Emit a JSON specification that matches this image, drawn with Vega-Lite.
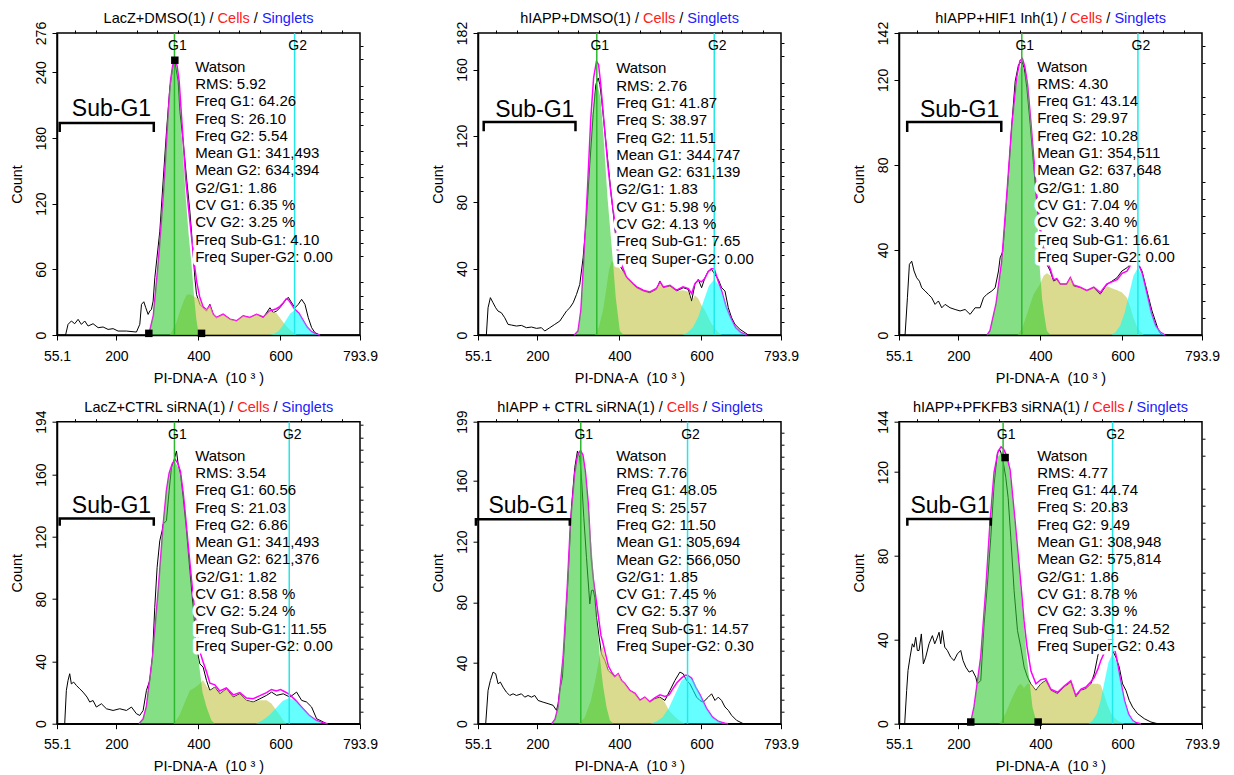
{
"$schema":"https://vega.github.io/schema/vega-lite/v6.json",
"background":"white",
"padding":{"left":8,"top":9,"right":0,"bottom":0},
"config":{"font":"Liberation Sans","view":{"stroke":"#000","strokeWidth":1.5},
"axis":{"grid":false,"domainColor":"#000","domainWidth":1.5,"tickColor":"#000","tickWidth":1,"labelColor":"#000","titleColor":"#000","labelFontSize":14,"titleFontSize":14.5,"titleFontWeight":"normal","labelFont":"Liberation Sans","titleFont":"Liberation Sans"},
"text":{"font":"Liberation Sans"}},
"datasets":{
"p1":[{"s":"m","g1":341.493,"g2":634.394},
{"s":"h","x":55.1,"y":0},{"s":"h","x":76,"y":0},{"s":"h","x":82,"y":9.7},{"s":"h","x":90.2,"y":12.8},{"s":"h","x":98.3,"y":10.3},{"s":"h","x":106.5,"y":14.3},{"s":"h","x":114.6,"y":9.7},{"s":"h","x":122.7,"y":12.8},{"s":"h","x":130.9,"y":8.2},{"s":"h","x":143.1,"y":10.3},{"s":"h","x":155.3,"y":6.7},{"s":"h","x":167.5,"y":7.3},{"s":"h","x":179.7,"y":5.1},{"s":"h","x":191.9,"y":5.8},{"s":"h","x":204.1,"y":3.6},{"s":"h","x":224.4,"y":3.6},{"s":"h","x":248.8,"y":2.7},{"s":"h","x":257,"y":9.8},{"s":"h","x":261.1,"y":28},{"s":"h","x":266.7,"y":30.4},{"s":"h","x":271.6,"y":24.9},{"s":"h","x":277.3,"y":18.8},{"s":"h","x":281.4,"y":21.9},{"s":"h","x":285.4,"y":23.4},{"s":"h","x":289.5,"y":31},{"s":"h","x":293.6,"y":52.3},{"s":"h","x":305.8,"y":94.9},{"s":"h","x":313.9,"y":140.6},{"s":"h","x":322.1,"y":186.2},{"s":"h","x":330.2,"y":225.8},{"s":"h","x":338.3,"y":247.1},{"s":"h","x":342.4,"y":249.5},{"s":"h","x":350.5,"y":231.9},{"s":"h","x":354.6,"y":204.5},{"s":"h","x":362.7,"y":177.1},{"s":"h","x":370.9,"y":143.6},{"s":"h","x":379,"y":113.2},{"s":"h","x":385.5,"y":82.7},{"s":"h","x":391.2,"y":52.3},{"s":"h","x":395.3,"y":37.1},{"s":"h","x":403.4,"y":28},{"s":"h","x":411.5,"y":24.9},{"s":"h","x":419.7,"y":21.9},{"s":"h","x":427.8,"y":28},{"s":"h","x":436,"y":18.8},{"s":"h","x":444.1,"y":15.8},{"s":"h","x":460.4,"y":18.8},{"s":"h","x":476.6,"y":14.3},{"s":"h","x":492.9,"y":12.8},{"s":"h","x":509.2,"y":17.3},{"s":"h","x":525.5,"y":15.8},{"s":"h","x":541.7,"y":18.8},{"s":"h","x":558,"y":15.8},{"s":"h","x":574.3,"y":24.9},{"s":"h","x":582.3,"y":20.4},{"s":"h","x":590.5,"y":21.9},{"s":"h","x":598.6,"y":24.9},{"s":"h","x":610.8,"y":31},{"s":"h","x":619,"y":34.5},{"s":"h","x":624.7,"y":31},{"s":"h","x":635.3,"y":24.9},{"s":"h","x":643.4,"y":28},{"s":"h","x":651.6,"y":32.6},{"s":"h","x":659.7,"y":28},{"s":"h","x":667.8,"y":15.8},{"s":"h","x":676,"y":6.7},{"s":"h","x":684,"y":2.1},{"s":"h","x":696,"y":0},{"s":"h","x":793.9,"y":0},
{"s":"G1","x":272,"y":0},{"s":"G1","x":281,"y":3.6},{"s":"G1","x":290,"y":18},{"s":"G1","x":301.7,"y":64.5},{"s":"G1","x":308,"y":95},{"s":"G1","x":314,"y":125},{"s":"G1","x":319,"y":155},{"s":"G1","x":323.7,"y":186},{"s":"G1","x":328,"y":212},{"s":"G1","x":331.8,"y":232},{"s":"G1","x":337,"y":245},{"s":"G1","x":342.4,"y":249},{"s":"G1","x":348,"y":243},{"s":"G1","x":353,"y":225},{"s":"G1","x":358.7,"y":186},{"s":"G1","x":364,"y":155},{"s":"G1","x":369.2,"y":125},{"s":"G1","x":376,"y":92},{"s":"G1","x":383.1,"y":64.5},{"s":"G1","x":389.6,"y":34},{"s":"G1","x":395,"y":14},{"s":"G1","x":399.3,"y":3.6},{"s":"G1","x":410,"y":0},
{"s":"S","x":330,"y":0},{"s":"S","x":345,"y":10},{"s":"S","x":355,"y":22},{"s":"S","x":365,"y":32},{"s":"S","x":372,"y":37},{"s":"S","x":380,"y":37},{"s":"S","x":388,"y":35.5},{"s":"S","x":396,"y":34},{"s":"S","x":403,"y":32.6},{"s":"S","x":411,"y":25},{"s":"S","x":420,"y":23},{"s":"S","x":428,"y":27},{"s":"S","x":436,"y":18.8},{"s":"S","x":444,"y":16},{"s":"S","x":460,"y":18.8},{"s":"S","x":477,"y":14.3},{"s":"S","x":493,"y":12.8},{"s":"S","x":509,"y":17.3},{"s":"S","x":525,"y":15.8},{"s":"S","x":542,"y":18.8},{"s":"S","x":558,"y":15.8},{"s":"S","x":574,"y":22},{"s":"S","x":590,"y":20},{"s":"S","x":600,"y":15},{"s":"S","x":610,"y":10},{"s":"S","x":620,"y":6},{"s":"S","x":631,"y":2},{"s":"S","x":640,"y":0},
{"s":"G2","x":572.6,"y":0},{"s":"G2","x":582.9,"y":1},{"s":"G2","x":593.2,"y":3},{"s":"G2","x":603.5,"y":7.3},{"s":"G2","x":613.8,"y":13.6},{"s":"G2","x":624.1,"y":19.9},{"s":"G2","x":634.4,"y":22.5},{"s":"G2","x":644.7,"y":19.9},{"s":"G2","x":655,"y":13.6},{"s":"G2","x":665.3,"y":7.3},{"s":"G2","x":675.6,"y":3},{"s":"G2","x":685.9,"y":1},{"s":"G2","x":696.2,"y":0},
{"s":"f","x":272,"y":0},{"s":"f","x":281,"y":3.6},{"s":"f","x":290,"y":18},{"s":"f","x":301.7,"y":64.5},{"s":"f","x":308,"y":95},{"s":"f","x":314,"y":125},{"s":"f","x":319,"y":155},{"s":"f","x":323.7,"y":186},{"s":"f","x":328,"y":212},{"s":"f","x":331.8,"y":232},{"s":"f","x":337,"y":246},{"s":"f","x":342.4,"y":252},{"s":"f","x":348,"y":246},{"s":"f","x":353,"y":232},{"s":"f","x":358.7,"y":200},{"s":"f","x":364,"y":170},{"s":"f","x":369.2,"y":142},{"s":"f","x":376,"y":115},{"s":"f","x":383,"y":90},{"s":"f","x":390,"y":65},{"s":"f","x":396,"y":48},{"s":"f","x":403,"y":35},{"s":"f","x":411,"y":26},{"s":"f","x":420,"y":23},{"s":"f","x":428,"y":27},{"s":"f","x":436,"y":19},{"s":"f","x":444,"y":16},{"s":"f","x":460,"y":19},{"s":"f","x":477,"y":14.5},{"s":"f","x":493,"y":13},{"s":"f","x":509,"y":17.5},{"s":"f","x":525,"y":16},{"s":"f","x":542,"y":19},{"s":"f","x":558,"y":16.5},{"s":"f","x":574,"y":22},{"s":"f","x":590,"y":24},{"s":"f","x":598,"y":26},{"s":"f","x":606,"y":29},{"s":"f","x":614,"y":33},{"s":"f","x":620,"y":32},{"s":"f","x":627,"y":28},{"s":"f","x":634,"y":24},{"s":"f","x":645,"y":20},{"s":"f","x":655,"y":13.6},{"s":"f","x":665,"y":7.3},{"s":"f","x":676,"y":3},{"s":"f","x":686,"y":1},{"s":"f","x":696,"y":0},
{"s":"br","o":1,"x":61.7,"y":185.6},{"s":"br","o":2,"x":61.7,"y":193.8},{"s":"br","o":3,"x":291.1,"y":193.8},{"s":"br","o":4,"x":291.1,"y":185.6},
{"s":"sq","x":342.4,"y":251.1},{"s":"sq","x":279,"y":1.5},{"s":"sq","x":407.5,"y":1.5}],
"p2":[{"s":"m","g1":344.747,"g2":631.139},
{"s":"h","x":55.1,"y":0},{"s":"h","x":75.5,"y":0},{"s":"h","x":79.6,"y":16.4},{"s":"h","x":85.3,"y":22.5},{"s":"h","x":91.8,"y":19.4},{"s":"h","x":98.3,"y":16.4},{"s":"h","x":104,"y":14.4},{"s":"h","x":112.1,"y":13.4},{"s":"h","x":120.3,"y":10.4},{"s":"h","x":128.4,"y":6.4},{"s":"h","x":136.5,"y":6},{"s":"h","x":148.8,"y":5.4},{"s":"h","x":161,"y":5.8},{"s":"h","x":173.2,"y":4.4},{"s":"h","x":185.4,"y":4.8},{"s":"h","x":197.6,"y":4},{"s":"h","x":209.8,"y":4.4},{"s":"h","x":217.9,"y":2.4},{"s":"h","x":230.1,"y":4.4},{"s":"h","x":242.3,"y":6.4},{"s":"h","x":254.6,"y":8.4},{"s":"h","x":262.7,"y":11.4},{"s":"h","x":270.8,"y":14.4},{"s":"h","x":279,"y":16.4},{"s":"h","x":287.1,"y":19.4},{"s":"h","x":295.2,"y":24.4},{"s":"h","x":303.3,"y":30.5},{"s":"h","x":311.4,"y":46.5},{"s":"h","x":319.6,"y":70.6},{"s":"h","x":327.7,"y":102.7},{"s":"h","x":335.9,"y":132.8},{"s":"h","x":342.4,"y":150.9},{"s":"h","x":348.1,"y":154.9},{"s":"h","x":352.2,"y":150.9},{"s":"h","x":356.2,"y":142.9},{"s":"h","x":364.3,"y":122.8},{"s":"h","x":372.5,"y":102.7},{"s":"h","x":380.6,"y":82.7},{"s":"h","x":386.3,"y":70.6},{"s":"h","x":392.8,"y":54.6},{"s":"h","x":399.3,"y":42.5},{"s":"h","x":409.1,"y":38.5},{"s":"h","x":417.2,"y":34.5},{"s":"h","x":425.4,"y":32.5},{"s":"h","x":433.5,"y":30.5},{"s":"h","x":441.6,"y":28.5},{"s":"h","x":449.8,"y":27.5},{"s":"h","x":457.9,"y":26.5},{"s":"h","x":474.2,"y":25.4},{"s":"h","x":490.5,"y":27.5},{"s":"h","x":498.6,"y":32.5},{"s":"h","x":506.7,"y":28.5},{"s":"h","x":523,"y":29.5},{"s":"h","x":539.3,"y":26.5},{"s":"h","x":555.5,"y":28.5},{"s":"h","x":567.8,"y":27.5},{"s":"h","x":575.9,"y":20.4},{"s":"h","x":584,"y":30.5},{"s":"h","x":592.2,"y":33.5},{"s":"h","x":600.3,"y":28.5},{"s":"h","x":608.5,"y":34.5},{"s":"h","x":616.6,"y":38.5},{"s":"h","x":624.7,"y":39.5},{"s":"h","x":632.8,"y":36.5},{"s":"h","x":641,"y":33.5},{"s":"h","x":649.1,"y":28.5},{"s":"h","x":657.3,"y":26.5},{"s":"h","x":665.4,"y":16.4},{"s":"h","x":673.5,"y":10.4},{"s":"h","x":681.7,"y":6.4},{"s":"h","x":693.9,"y":3.4},{"s":"h","x":706.1,"y":1.4},{"s":"h","x":714.2,"y":0},{"s":"h","x":793.9,"y":0},
{"s":"G1","x":290,"y":0},{"s":"G1","x":299,"y":2.4},{"s":"G1","x":306,"y":15},{"s":"G1","x":313,"y":42.5},{"s":"G1","x":322,"y":82.7},{"s":"G1","x":330,"y":122.8},{"s":"G1","x":337.5,"y":142.9},{"s":"G1","x":345,"y":152},{"s":"G1","x":353.8,"y":142.9},{"s":"G1","x":360.3,"y":122.8},{"s":"G1","x":370.9,"y":82.7},{"s":"G1","x":378,"y":62},{"s":"G1","x":384.7,"y":42.5},{"s":"G1","x":391,"y":22.4},{"s":"G1","x":401,"y":2.4},{"s":"G1","x":410,"y":0},
{"s":"S","x":340,"y":0},{"s":"S","x":350,"y":5},{"s":"S","x":360,"y":15},{"s":"S","x":368,"y":28},{"s":"S","x":375,"y":40},{"s":"S","x":381,"y":44.5},{"s":"S","x":388,"y":43},{"s":"S","x":395,"y":42},{"s":"S","x":403,"y":39},{"s":"S","x":409,"y":38.5},{"s":"S","x":417,"y":34.5},{"s":"S","x":425,"y":32.5},{"s":"S","x":433,"y":30.5},{"s":"S","x":442,"y":28.5},{"s":"S","x":450,"y":27.5},{"s":"S","x":458,"y":26.5},{"s":"S","x":474,"y":25.4},{"s":"S","x":490,"y":27.5},{"s":"S","x":499,"y":31},{"s":"S","x":507,"y":28.5},{"s":"S","x":523,"y":29.5},{"s":"S","x":539,"y":26.5},{"s":"S","x":555,"y":27},{"s":"S","x":568,"y":26},{"s":"S","x":576,"y":20},{"s":"S","x":584,"y":24},{"s":"S","x":592,"y":22},{"s":"S","x":600,"y":18},{"s":"S","x":608,"y":15},{"s":"S","x":616,"y":11},{"s":"S","x":624,"y":7},{"s":"S","x":633,"y":4},{"s":"S","x":641,"y":1.5},{"s":"S","x":650,"y":0},
{"s":"G2","x":553,"y":0},{"s":"G2","x":566,"y":1.5},{"s":"G2","x":579,"y":4.5},{"s":"G2","x":592,"y":10.9},{"s":"G2","x":605,"y":20.3},{"s":"G2","x":618,"y":29.6},{"s":"G2","x":631,"y":33.5},{"s":"G2","x":644,"y":29.6},{"s":"G2","x":657,"y":20.3},{"s":"G2","x":670,"y":10.9},{"s":"G2","x":683,"y":4.5},{"s":"G2","x":696,"y":1.5},{"s":"G2","x":709,"y":0},
{"s":"f","x":290,"y":0},{"s":"f","x":299,"y":2.4},{"s":"f","x":306,"y":15},{"s":"f","x":313,"y":45},{"s":"f","x":322,"y":88},{"s":"f","x":330,"y":130},{"s":"f","x":337,"y":155},{"s":"f","x":344,"y":165},{"s":"f","x":349,"y":163},{"s":"f","x":354,"y":152},{"s":"f","x":360,"y":135},{"s":"f","x":366,"y":118},{"s":"f","x":371,"y":104},{"s":"f","x":378,"y":88},{"s":"f","x":385,"y":75},{"s":"f","x":391,"y":62},{"s":"f","x":397,"y":52},{"s":"f","x":403,"y":44},{"s":"f","x":409,"y":40},{"s":"f","x":417,"y":35},{"s":"f","x":425,"y":33},{"s":"f","x":433,"y":31},{"s":"f","x":442,"y":29},{"s":"f","x":450,"y":28},{"s":"f","x":458,"y":27},{"s":"f","x":474,"y":26},{"s":"f","x":490,"y":28},{"s":"f","x":499,"y":32},{"s":"f","x":507,"y":29},{"s":"f","x":523,"y":30},{"s":"f","x":539,"y":27},{"s":"f","x":555,"y":29},{"s":"f","x":568,"y":28},{"s":"f","x":576,"y":25},{"s":"f","x":584,"y":31},{"s":"f","x":592,"y":33},{"s":"f","x":600,"y":32},{"s":"f","x":608,"y":34},{"s":"f","x":616,"y":38},{"s":"f","x":624,"y":40},{"s":"f","x":631,"y":40},{"s":"f","x":640,"y":33},{"s":"f","x":650,"y":26},{"s":"f","x":660,"y":17},{"s":"f","x":670,"y":11},{"s":"f","x":683,"y":4.5},{"s":"f","x":696,"y":1.5},{"s":"f","x":710,"y":0},
{"s":"br","o":1,"x":69,"y":122.8},{"s":"br","o":2,"x":69,"y":128.4},{"s":"br","o":3,"x":292.8,"y":128.4},{"s":"br","o":4,"x":292.8,"y":122.8}],
"p3":[{"s":"m","g1":354.511,"g2":637.648},
{"s":"h","x":55.1,"y":0},{"s":"h","x":69.9,"y":0},{"s":"h","x":75.6,"y":17.5},{"s":"h","x":80.4,"y":33.2},{"s":"h","x":86.1,"y":34.7},{"s":"h","x":91.8,"y":30.1},{"s":"h","x":98.3,"y":26.9},{"s":"h","x":104.9,"y":25.3},{"s":"h","x":110.6,"y":22.2},{"s":"h","x":118.7,"y":20.7},{"s":"h","x":126.8,"y":19.1},{"s":"h","x":134.9,"y":17.5},{"s":"h","x":143.1,"y":14.4},{"s":"h","x":151.2,"y":16},{"s":"h","x":159.4,"y":12.8},{"s":"h","x":167.5,"y":14.4},{"s":"h","x":179.7,"y":12.8},{"s":"h","x":191.9,"y":12},{"s":"h","x":204.1,"y":11.3},{"s":"h","x":216.3,"y":12},{"s":"h","x":228.5,"y":9.7},{"s":"h","x":240.7,"y":12.8},{"s":"h","x":252.9,"y":12.8},{"s":"h","x":261.1,"y":17.5},{"s":"h","x":269.2,"y":19.1},{"s":"h","x":281.4,"y":20.7},{"s":"h","x":289.5,"y":22.2},{"s":"h","x":297.7,"y":30.1},{"s":"h","x":301.7,"y":36.3},{"s":"h","x":308.3,"y":39.4},{"s":"h","x":313.9,"y":53.5},{"s":"h","x":322.1,"y":75.5},{"s":"h","x":330.2,"y":99},{"s":"h","x":338.4,"y":119.3},{"s":"h","x":346.5,"y":127.1},{"s":"h","x":354.6,"y":128.7},{"s":"h","x":360.3,"y":125.6},{"s":"h","x":366.8,"y":116.2},{"s":"h","x":375,"y":99},{"s":"h","x":383.1,"y":80.2},{"s":"h","x":391.2,"y":61.4},{"s":"h","x":399.4,"y":48.8},{"s":"h","x":407.5,"y":39.4},{"s":"h","x":415.6,"y":33.2},{"s":"h","x":423.8,"y":30.1},{"s":"h","x":431.9,"y":25.3},{"s":"h","x":440,"y":26.1},{"s":"h","x":448.2,"y":23.8},{"s":"h","x":464.4,"y":23.8},{"s":"h","x":472.6,"y":26.9},{"s":"h","x":480.7,"y":23},{"s":"h","x":497,"y":22.2},{"s":"h","x":513.3,"y":20.7},{"s":"h","x":529.6,"y":22.2},{"s":"h","x":545.9,"y":19.1},{"s":"h","x":562.1,"y":23.8},{"s":"h","x":574.3,"y":25.3},{"s":"h","x":586.5,"y":26.9},{"s":"h","x":598.7,"y":30.1},{"s":"h","x":610.9,"y":31.6},{"s":"h","x":623.1,"y":34},{"s":"h","x":631.3,"y":34.7},{"s":"h","x":639.4,"y":33.2},{"s":"h","x":647.5,"y":30.1},{"s":"h","x":655.7,"y":23.8},{"s":"h","x":663.8,"y":17.5},{"s":"h","x":672,"y":11.3},{"s":"h","x":680.1,"y":6.6},{"s":"h","x":688.2,"y":1.9},{"s":"h","x":696.3,"y":0},{"s":"h","x":793.9,"y":0},
{"s":"G1","x":270,"y":0},{"s":"G1","x":277.3,"y":1.9},{"s":"G1","x":292,"y":15},{"s":"G1","x":305.8,"y":33.2},{"s":"G1","x":318,"y":64.5},{"s":"G1","x":330.2,"y":95.8},{"s":"G1","x":342.4,"y":119.3},{"s":"G1","x":354,"y":128},{"s":"G1","x":368.5,"y":119.3},{"s":"G1","x":379,"y":95.8},{"s":"G1","x":389.6,"y":64.5},{"s":"G1","x":397.7,"y":33.2},{"s":"G1","x":404,"y":17},{"s":"G1","x":409.1,"y":9.6},{"s":"G1","x":415.6,"y":1.9},{"s":"G1","x":425,"y":0},
{"s":"S","x":345,"y":0},{"s":"S","x":357,"y":4},{"s":"S","x":367,"y":9.7},{"s":"S","x":383,"y":19.1},{"s":"S","x":399,"y":24},{"s":"S","x":408,"y":28},{"s":"S","x":416,"y":29},{"s":"S","x":424,"y":28},{"s":"S","x":432,"y":25},{"s":"S","x":440,"y":26},{"s":"S","x":448,"y":23.8},{"s":"S","x":464,"y":23.8},{"s":"S","x":473,"y":26.9},{"s":"S","x":481,"y":23},{"s":"S","x":497,"y":22.2},{"s":"S","x":513,"y":20.7},{"s":"S","x":530,"y":22.2},{"s":"S","x":546,"y":19.1},{"s":"S","x":562,"y":23},{"s":"S","x":574,"y":22},{"s":"S","x":587,"y":21},{"s":"S","x":599,"y":20},{"s":"S","x":611,"y":17.5},{"s":"S","x":619,"y":13},{"s":"S","x":627,"y":8},{"s":"S","x":635,"y":4},{"s":"S","x":643,"y":1.9},{"s":"S","x":652,"y":0},
{"s":"G2","x":572.6,"y":0},{"s":"G2","x":583.4,"y":1.4},{"s":"G2","x":594.2,"y":4.3},{"s":"G2","x":605.1,"y":10.3},{"s":"G2","x":616,"y":19.2},{"s":"G2","x":626.8,"y":27.9},{"s":"G2","x":637.6,"y":31.6},{"s":"G2","x":648.5,"y":27.9},{"s":"G2","x":659.3,"y":19.2},{"s":"G2","x":670.1,"y":10.3},{"s":"G2","x":681,"y":4.3},{"s":"G2","x":691.9,"y":1.4},{"s":"G2","x":702.7,"y":0},
{"s":"f","x":270,"y":0},{"s":"f","x":277,"y":2},{"s":"f","x":292,"y":15},{"s":"f","x":305.8,"y":35},{"s":"f","x":318,"y":66},{"s":"f","x":330,"y":98},{"s":"f","x":342,"y":121},{"s":"f","x":350,"y":129},{"s":"f","x":356,"y":130},{"s":"f","x":362,"y":126},{"s":"f","x":368.5,"y":118},{"s":"f","x":375,"y":104},{"s":"f","x":383,"y":85},{"s":"f","x":391,"y":66},{"s":"f","x":399,"y":52},{"s":"f","x":407,"y":42},{"s":"f","x":415,"y":35},{"s":"f","x":424,"y":31},{"s":"f","x":432,"y":26},{"s":"f","x":440,"y":26.5},{"s":"f","x":448,"y":24},{"s":"f","x":464,"y":24},{"s":"f","x":473,"y":27},{"s":"f","x":481,"y":23.5},{"s":"f","x":497,"y":22.5},{"s":"f","x":513,"y":21},{"s":"f","x":530,"y":22.5},{"s":"f","x":546,"y":20},{"s":"f","x":562,"y":24},{"s":"f","x":574,"y":25},{"s":"f","x":587,"y":26},{"s":"f","x":599,"y":29},{"s":"f","x":611,"y":30},{"s":"f","x":620,"y":33},{"s":"f","x":628,"y":35},{"s":"f","x":637.6,"y":34},{"s":"f","x":648,"y":29},{"s":"f","x":659,"y":20},{"s":"f","x":670,"y":10.5},{"s":"f","x":681,"y":4.3},{"s":"f","x":692,"y":1.4},{"s":"f","x":703,"y":0},
{"s":"br","o":1,"x":75.1,"y":95.5},{"s":"br","o":2,"x":75.1,"y":100.2},{"s":"br","o":3,"x":304.5,"y":100.2},{"s":"br","o":4,"x":304.5,"y":95.5}],
"p4":[{"s":"m","g1":341.493,"g2":621.376},
{"s":"h","x":55.1,"y":0},{"s":"h","x":73.9,"y":0},{"s":"h","x":77.9,"y":21.4},{"s":"h","x":82,"y":27.8},{"s":"h","x":86.1,"y":32.1},{"s":"h","x":90.1,"y":25.6},{"s":"h","x":95.8,"y":26.7},{"s":"h","x":102.3,"y":24.6},{"s":"h","x":110.5,"y":22.4},{"s":"h","x":118.6,"y":20.3},{"s":"h","x":128.4,"y":17.1},{"s":"h","x":134.9,"y":13.9},{"s":"h","x":143,"y":14.9},{"s":"h","x":151.1,"y":10.7},{"s":"h","x":163.4,"y":12.8},{"s":"h","x":175.6,"y":9.6},{"s":"h","x":191.8,"y":8.5},{"s":"h","x":208.1,"y":9.6},{"s":"h","x":224.4,"y":8.5},{"s":"h","x":236.6,"y":10.7},{"s":"h","x":248.8,"y":6.4},{"s":"h","x":256.9,"y":5.3},{"s":"h","x":265.1,"y":8.5},{"s":"h","x":273.2,"y":21.4},{"s":"h","x":281.3,"y":27.8},{"s":"h","x":287.8,"y":42.7},{"s":"h","x":293.5,"y":74.8},{"s":"h","x":299.2,"y":100.4},{"s":"h","x":305.7,"y":117.5},{"s":"h","x":311.4,"y":124},{"s":"h","x":313.9,"y":128.2},{"s":"h","x":322,"y":130.4},{"s":"h","x":328.5,"y":149.6},{"s":"h","x":334.2,"y":164.5},{"s":"h","x":339.9,"y":168.8},{"s":"h","x":346.4,"y":175.2},{"s":"h","x":350.5,"y":166.7},{"s":"h","x":356.2,"y":160.3},{"s":"h","x":362.7,"y":145.3},{"s":"h","x":370.8,"y":124},{"s":"h","x":378.9,"y":98.3},{"s":"h","x":387.1,"y":74.8},{"s":"h","x":395.2,"y":49.1},{"s":"h","x":403.3,"y":38.5},{"s":"h","x":411.5,"y":36.3},{"s":"h","x":419.6,"y":27.8},{"s":"h","x":427.8,"y":21.4},{"s":"h","x":440,"y":23.5},{"s":"h","x":452.2,"y":19.2},{"s":"h","x":468.5,"y":22.4},{"s":"h","x":484.7,"y":17.1},{"s":"h","x":501,"y":19.2},{"s":"h","x":517.3,"y":15},{"s":"h","x":533.5,"y":13.9},{"s":"h","x":549.8,"y":16},{"s":"h","x":566.1,"y":18.2},{"s":"h","x":578.3,"y":20.3},{"s":"h","x":590.5,"y":18.2},{"s":"h","x":606.8,"y":19.2},{"s":"h","x":623,"y":17.1},{"s":"h","x":639.3,"y":20.3},{"s":"h","x":651.5,"y":15},{"s":"h","x":663.7,"y":13.9},{"s":"h","x":675.9,"y":10.7},{"s":"h","x":688.1,"y":3.2},{"s":"h","x":704.4,"y":1.1},{"s":"h","x":712.5,"y":0},{"s":"h","x":793.9,"y":0},
{"s":"G1","x":255,"y":0},{"s":"G1","x":265,"y":3},{"s":"G1","x":273.2,"y":10.7},{"s":"G1","x":287.8,"y":42.7},{"s":"G1","x":301.7,"y":85.5},{"s":"G1","x":313.9,"y":128.2},{"s":"G1","x":322,"y":149.6},{"s":"G1","x":328.5,"y":160.3},{"s":"G1","x":336,"y":166},{"s":"G1","x":343,"y":168},{"s":"G1","x":350,"y":165},{"s":"G1","x":356.2,"y":160.3},{"s":"G1","x":369.2,"y":128.2},{"s":"G1","x":383,"y":85.5},{"s":"G1","x":399.3,"y":42.7},{"s":"G1","x":410,"y":20},{"s":"G1","x":419.6,"y":10.7},{"s":"G1","x":431.8,"y":2},{"s":"G1","x":440,"y":0},
{"s":"S","x":340,"y":0},{"s":"S","x":355,"y":6},{"s":"S","x":367,"y":14},{"s":"S","x":379,"y":21.4},{"s":"S","x":390,"y":23},{"s":"S","x":403,"y":25.6},{"s":"S","x":411,"y":28},{"s":"S","x":420,"y":24},{"s":"S","x":428,"y":21.4},{"s":"S","x":440,"y":23.5},{"s":"S","x":452,"y":19.2},{"s":"S","x":468,"y":22.4},{"s":"S","x":485,"y":17.1},{"s":"S","x":501,"y":19.2},{"s":"S","x":517,"y":15},{"s":"S","x":533,"y":13.9},{"s":"S","x":550,"y":15},{"s":"S","x":566,"y":15},{"s":"S","x":578,"y":13},{"s":"S","x":590,"y":8.5},{"s":"S","x":600,"y":5},{"s":"S","x":607,"y":2.1},{"s":"S","x":615,"y":0},
{"s":"G2","x":539.9,"y":0},{"s":"G2","x":556.2,"y":2.2},{"s":"G2","x":572.5,"y":5.4},{"s":"G2","x":588.8,"y":10},{"s":"G2","x":605.1,"y":14.6},{"s":"G2","x":621.4,"y":16.5},{"s":"G2","x":637.7,"y":14.6},{"s":"G2","x":654,"y":10},{"s":"G2","x":670.3,"y":5.4},{"s":"G2","x":686.6,"y":2.2},{"s":"G2","x":702.9,"y":0},
{"s":"f","x":255,"y":0},{"s":"f","x":265,"y":3},{"s":"f","x":273,"y":11},{"s":"f","x":288,"y":43},{"s":"f","x":302,"y":86},{"s":"f","x":314,"y":128},{"s":"f","x":322,"y":150},{"s":"f","x":328.5,"y":161},{"s":"f","x":336,"y":167},{"s":"f","x":343,"y":170},{"s":"f","x":350,"y":167},{"s":"f","x":356,"y":162},{"s":"f","x":363,"y":148},{"s":"f","x":369,"y":132},{"s":"f","x":376,"y":112},{"s":"f","x":383,"y":93},{"s":"f","x":391,"y":72},{"s":"f","x":399,"y":56},{"s":"f","x":405,"y":45},{"s":"f","x":411,"y":40},{"s":"f","x":420,"y":33},{"s":"f","x":428,"y":26},{"s":"f","x":440,"y":25},{"s":"f","x":452,"y":21},{"s":"f","x":468,"y":23},{"s":"f","x":485,"y":18.5},{"s":"f","x":501,"y":20},{"s":"f","x":517,"y":16.5},{"s":"f","x":533,"y":16},{"s":"f","x":550,"y":18},{"s":"f","x":566,"y":20},{"s":"f","x":578,"y":22},{"s":"f","x":590,"y":21},{"s":"f","x":600,"y":22},{"s":"f","x":607,"y":21},{"s":"f","x":621,"y":19},{"s":"f","x":637,"y":15},{"s":"f","x":654,"y":10},{"s":"f","x":670,"y":5.4},{"s":"f","x":687,"y":2.2},{"s":"f","x":703,"y":0.7},{"s":"f","x":715,"y":0},
{"s":"br","o":1,"x":61.7,"y":127.1},{"s":"br","o":2,"x":61.7,"y":131.8},{"s":"br","o":3,"x":291.1,"y":131.8},{"s":"br","o":4,"x":291.1,"y":127.1}],
"p5":[{"s":"m","g1":305.694,"g2":566.05},
{"s":"h","x":55.1,"y":0},{"s":"h","x":73.9,"y":0},{"s":"h","x":79.6,"y":21.9},{"s":"h","x":85.3,"y":28.5},{"s":"h","x":91.8,"y":34},{"s":"h","x":98.3,"y":32.9},{"s":"h","x":104,"y":26.3},{"s":"h","x":109.7,"y":27.4},{"s":"h","x":116.2,"y":24.1},{"s":"h","x":124.3,"y":20.8},{"s":"h","x":132.5,"y":18.6},{"s":"h","x":140.6,"y":19.7},{"s":"h","x":148.8,"y":18.6},{"s":"h","x":161,"y":19.7},{"s":"h","x":169.1,"y":17.5},{"s":"h","x":177.2,"y":18.6},{"s":"h","x":185.4,"y":17.5},{"s":"h","x":193.5,"y":18.6},{"s":"h","x":201.6,"y":15.3},{"s":"h","x":213.8,"y":14.2},{"s":"h","x":226,"y":13.2},{"s":"h","x":238.2,"y":12.1},{"s":"h","x":246.4,"y":8.8},{"s":"h","x":250.5,"y":13.2},{"s":"h","x":254.5,"y":21.9},{"s":"h","x":261,"y":30.7},{"s":"h","x":266.7,"y":57},{"s":"h","x":274.9,"y":96.4},{"s":"h","x":283,"y":142.5},{"s":"h","x":291.1,"y":168.8},{"s":"h","x":297.6,"y":179.7},{"s":"h","x":303.3,"y":175.4},{"s":"h","x":307.4,"y":162.2},{"s":"h","x":313.1,"y":135.9},{"s":"h","x":319.6,"y":109.6},{"s":"h","x":327.7,"y":78.9},{"s":"h","x":331.8,"y":87.7},{"s":"h","x":335.9,"y":88.1},{"s":"h","x":339.9,"y":83.3},{"s":"h","x":344,"y":70.1},{"s":"h","x":350.5,"y":57},{"s":"h","x":356.2,"y":46},{"s":"h","x":364.4,"y":41.6},{"s":"h","x":372.5,"y":35.1},{"s":"h","x":380.6,"y":32.9},{"s":"h","x":388.8,"y":30.7},{"s":"h","x":396.9,"y":32.9},{"s":"h","x":405,"y":28.5},{"s":"h","x":413.2,"y":26.3},{"s":"h","x":425.4,"y":21.9},{"s":"h","x":437.6,"y":19.7},{"s":"h","x":449.8,"y":15.3},{"s":"h","x":462,"y":17.5},{"s":"h","x":474.2,"y":14.2},{"s":"h","x":486.4,"y":16.4},{"s":"h","x":498.6,"y":17.5},{"s":"h","x":510.8,"y":15.3},{"s":"h","x":523,"y":21.9},{"s":"h","x":535.2,"y":28.5},{"s":"h","x":547.4,"y":34},{"s":"h","x":555.5,"y":32.9},{"s":"h","x":563.7,"y":28.5},{"s":"h","x":571.8,"y":26.3},{"s":"h","x":580,"y":21.9},{"s":"h","x":588.1,"y":17.5},{"s":"h","x":596.2,"y":15.3},{"s":"h","x":604.4,"y":14.2},{"s":"h","x":616.6,"y":17.5},{"s":"h","x":624.7,"y":19.7},{"s":"h","x":632.9,"y":15.3},{"s":"h","x":641,"y":17.5},{"s":"h","x":649.1,"y":15.3},{"s":"h","x":657.3,"y":11},{"s":"h","x":665.4,"y":8.8},{"s":"h","x":673.5,"y":5.5},{"s":"h","x":685.7,"y":2.2},{"s":"h","x":702,"y":0},{"s":"h","x":793.9,"y":0},
{"s":"G1","x":235,"y":0},{"s":"G1","x":243,"y":3},{"s":"G1","x":250.5,"y":11},{"s":"G1","x":262.7,"y":43.8},{"s":"G1","x":272.4,"y":87.7},{"s":"G1","x":280.5,"y":131.5},{"s":"G1","x":291.1,"y":164.4},{"s":"G1","x":298,"y":176},{"s":"G1","x":305,"y":179.7},{"s":"G1","x":311,"y":175},{"s":"G1","x":317.2,"y":164.4},{"s":"G1","x":327.7,"y":131.5},{"s":"G1","x":339.9,"y":87.7},{"s":"G1","x":352.2,"y":43.8},{"s":"G1","x":360,"y":25},{"s":"G1","x":368.4,"y":11},{"s":"G1","x":376.6,"y":2.2},{"s":"G1","x":385,"y":0},
{"s":"S","x":300,"y":0},{"s":"S","x":315,"y":4},{"s":"S","x":330,"y":15},{"s":"S","x":342,"y":30},{"s":"S","x":352,"y":45},{"s":"S","x":358.7,"y":50.9},{"s":"S","x":364,"y":46},{"s":"S","x":372,"y":36},{"s":"S","x":381,"y":33},{"s":"S","x":389,"y":30.7},{"s":"S","x":397,"y":33},{"s":"S","x":405,"y":28.5},{"s":"S","x":413,"y":26.3},{"s":"S","x":425,"y":21.9},{"s":"S","x":438,"y":19.7},{"s":"S","x":450,"y":15.3},{"s":"S","x":462,"y":17.5},{"s":"S","x":474,"y":14.2},{"s":"S","x":486,"y":16.4},{"s":"S","x":499,"y":17.5},{"s":"S","x":511,"y":14},{"s":"S","x":520,"y":9},{"s":"S","x":530,"y":6},{"s":"S","x":540,"y":3.5},{"s":"S","x":550,"y":1.5},{"s":"S","x":560,"y":0},
{"s":"G2","x":474.8,"y":0},{"s":"G2","x":490,"y":1.4},{"s":"G2","x":505.2,"y":4.3},{"s":"G2","x":520.4,"y":10.3},{"s":"G2","x":535.6,"y":19.3},{"s":"G2","x":550.8,"y":28.1},{"s":"G2","x":566,"y":31.8},{"s":"G2","x":581.2,"y":28.1},{"s":"G2","x":596.4,"y":19.3},{"s":"G2","x":611.6,"y":10.3},{"s":"G2","x":626.8,"y":4.3},{"s":"G2","x":642,"y":1.4},{"s":"G2","x":657.2,"y":0},
{"s":"f","x":235,"y":0},{"s":"f","x":243,"y":3},{"s":"f","x":250.5,"y":11},{"s":"f","x":262.7,"y":44},{"s":"f","x":272.4,"y":88},{"s":"f","x":280.5,"y":132},{"s":"f","x":291,"y":165},{"s":"f","x":298,"y":177},{"s":"f","x":305,"y":180},{"s":"f","x":311,"y":177},{"s":"f","x":317,"y":166},{"s":"f","x":324,"y":145},{"s":"f","x":331,"y":110},{"s":"f","x":336,"y":96},{"s":"f","x":340,"y":88},{"s":"f","x":348,"y":72},{"s":"f","x":355,"y":58},{"s":"f","x":360,"y":53},{"s":"f","x":366,"y":46},{"s":"f","x":373,"y":38},{"s":"f","x":381,"y":34},{"s":"f","x":389,"y":31},{"s":"f","x":397,"y":33},{"s":"f","x":405,"y":28.5},{"s":"f","x":413,"y":26.5},{"s":"f","x":425,"y":22},{"s":"f","x":438,"y":20},{"s":"f","x":450,"y":15.5},{"s":"f","x":462,"y":17.5},{"s":"f","x":474,"y":14.5},{"s":"f","x":486,"y":17},{"s":"f","x":499,"y":19},{"s":"f","x":511,"y":18},{"s":"f","x":521,"y":19},{"s":"f","x":530,"y":23},{"s":"f","x":540,"y":27},{"s":"f","x":551,"y":30},{"s":"f","x":560,"y":32},{"s":"f","x":566,"y":32},{"s":"f","x":576,"y":30},{"s":"f","x":586,"y":24},{"s":"f","x":596,"y":19.3},{"s":"f","x":612,"y":10.3},{"s":"f","x":627,"y":4.3},{"s":"f","x":642,"y":1.4},{"s":"f","x":657,"y":0.35},{"s":"f","x":665,"y":0},
{"s":"br","o":1,"x":50,"y":130.4},{"s":"br","o":2,"x":50,"y":134.8},{"s":"br","o":3,"x":278.9,"y":134.8},{"s":"br","o":4,"x":278.9,"y":130.4}],
"p6":[{"s":"m","g1":308.948,"g2":575.814},
{"s":"h","x":55.1,"y":0},{"s":"h","x":69,"y":0},{"s":"h","x":73.8,"y":15.9},{"s":"h","x":77.1,"y":25.4},{"s":"h","x":82,"y":31.7},{"s":"h","x":87.7,"y":38.1},{"s":"h","x":91.7,"y":36.5},{"s":"h","x":95.8,"y":41.2},{"s":"h","x":99.9,"y":34.9},{"s":"h","x":104,"y":34.9},{"s":"h","x":109.6,"y":42.8},{"s":"h","x":114.5,"y":28.5},{"s":"h","x":120.2,"y":31.7},{"s":"h","x":128.4,"y":38.1},{"s":"h","x":136.5,"y":42},{"s":"h","x":142.2,"y":38.1},{"s":"h","x":147.1,"y":40.4},{"s":"h","x":152.8,"y":43.6},{"s":"h","x":156.8,"y":38.1},{"s":"h","x":160.9,"y":44.4},{"s":"h","x":166.6,"y":36.5},{"s":"h","x":173.1,"y":34.9},{"s":"h","x":181.2,"y":31.7},{"s":"h","x":189.4,"y":30.1},{"s":"h","x":197.5,"y":33.3},{"s":"h","x":205.6,"y":34.9},{"s":"h","x":211.3,"y":30.1},{"s":"h","x":217.9,"y":27},{"s":"h","x":226,"y":24.6},{"s":"h","x":234.1,"y":25.4},{"s":"h","x":242.3,"y":22.2},{"s":"h","x":246.3,"y":19},{"s":"h","x":254.5,"y":20.6},{"s":"h","x":262.6,"y":47.6},{"s":"h","x":270.7,"y":66.6},{"s":"h","x":278.9,"y":88.8},{"s":"h","x":287,"y":114.2},{"s":"h","x":295.2,"y":129.3},{"s":"h","x":301.7,"y":130.4},{"s":"h","x":307.4,"y":126.9},{"s":"h","x":315.5,"y":117.4},{"s":"h","x":321.2,"y":107.8},{"s":"h","x":327.7,"y":88.8},{"s":"h","x":335.8,"y":63.4},{"s":"h","x":344,"y":44.4},{"s":"h","x":352.1,"y":36.5},{"s":"h","x":360.2,"y":27},{"s":"h","x":368.4,"y":22.2},{"s":"h","x":376.5,"y":19},{"s":"h","x":388.7,"y":15.9},{"s":"h","x":400.9,"y":19},{"s":"h","x":413.1,"y":20.6},{"s":"h","x":425.3,"y":15.9},{"s":"h","x":441.6,"y":14.3},{"s":"h","x":457.9,"y":17.5},{"s":"h","x":474.1,"y":19.8},{"s":"h","x":486.3,"y":12.7},{"s":"h","x":498.5,"y":15.9},{"s":"h","x":510.8,"y":16.7},{"s":"h","x":523,"y":19},{"s":"h","x":531.1,"y":23.8},{"s":"h","x":539.2,"y":31.7},{"s":"h","x":545.7,"y":38.1},{"s":"h","x":551.4,"y":36.5},{"s":"h","x":559.5,"y":33.3},{"s":"h","x":567.7,"y":36.5},{"s":"h","x":575.8,"y":34.9},{"s":"h","x":583.9,"y":31.7},{"s":"h","x":592.1,"y":27},{"s":"h","x":600.2,"y":19},{"s":"h","x":608.4,"y":15.9},{"s":"h","x":616.5,"y":11.1},{"s":"h","x":624.7,"y":7.9},{"s":"h","x":636.8,"y":4.8},{"s":"h","x":653.1,"y":2.4},{"s":"h","x":669.4,"y":0.8},{"s":"h","x":685.7,"y":0},{"s":"h","x":793.9,"y":0},
{"s":"G1","x":225,"y":0},{"s":"G1","x":232,"y":2.5},{"s":"G1","x":238.2,"y":7.9},{"s":"G1","x":254.5,"y":31.7},{"s":"G1","x":266.7,"y":63.4},{"s":"G1","x":277.2,"y":95.2},{"s":"G1","x":287,"y":118.9},{"s":"G1","x":297,"y":127.5},{"s":"G1","x":308,"y":130},{"s":"G1","x":317,"y":127.5},{"s":"G1","x":326,"y":118.9},{"s":"G1","x":338.3,"y":95.2},{"s":"G1","x":352.1,"y":63.4},{"s":"G1","x":366.7,"y":31.7},{"s":"G1","x":380.6,"y":7.9},{"s":"G1","x":388,"y":2.5},{"s":"G1","x":395,"y":0},
{"s":"S","x":300,"y":0},{"s":"S","x":315,"y":5},{"s":"S","x":330,"y":12},{"s":"S","x":345,"y":18},{"s":"S","x":352,"y":19},{"s":"S","x":360,"y":17},{"s":"S","x":368,"y":19},{"s":"S","x":377,"y":19},{"s":"S","x":389,"y":15.9},{"s":"S","x":401,"y":19},{"s":"S","x":413,"y":20.6},{"s":"S","x":425,"y":15.9},{"s":"S","x":442,"y":14.3},{"s":"S","x":458,"y":17.5},{"s":"S","x":474,"y":19.8},{"s":"S","x":486,"y":12.7},{"s":"S","x":499,"y":15.9},{"s":"S","x":511,"y":16.7},{"s":"S","x":523,"y":19},{"s":"S","x":531,"y":19},{"s":"S","x":540,"y":19},{"s":"S","x":547,"y":18.5},{"s":"S","x":555,"y":14},{"s":"S","x":563,"y":9},{"s":"S","x":572,"y":5},{"s":"S","x":582,"y":2.5},{"s":"S","x":592,"y":1},{"s":"S","x":605,"y":0},
{"s":"G2","x":517.3,"y":0},{"s":"G2","x":527.1,"y":1.5},{"s":"G2","x":536.8,"y":4.5},{"s":"G2","x":546.6,"y":10.8},{"s":"G2","x":556.3,"y":20.2},{"s":"G2","x":566.1,"y":29.4},{"s":"G2","x":575.8,"y":33.3},{"s":"G2","x":585.6,"y":29.4},{"s":"G2","x":595.3,"y":20.2},{"s":"G2","x":605.1,"y":10.8},{"s":"G2","x":614.8,"y":4.5},{"s":"G2","x":624.6,"y":1.5},{"s":"G2","x":634.3,"y":0},
{"s":"f","x":225,"y":0},{"s":"f","x":232,"y":2.5},{"s":"f","x":238,"y":8},{"s":"f","x":254.5,"y":32},{"s":"f","x":266.7,"y":64},{"s":"f","x":277,"y":96},{"s":"f","x":287,"y":120},{"s":"f","x":297,"y":130},{"s":"f","x":304,"y":132},{"s":"f","x":310,"y":131},{"s":"f","x":317,"y":128},{"s":"f","x":326,"y":121},{"s":"f","x":338,"y":97},{"s":"f","x":345,"y":82},{"s":"f","x":352,"y":67},{"s":"f","x":360,"y":49},{"s":"f","x":367,"y":37},{"s":"f","x":377,"y":25},{"s":"f","x":389,"y":19},{"s":"f","x":401,"y":21},{"s":"f","x":413,"y":21.5},{"s":"f","x":425,"y":16.5},{"s":"f","x":442,"y":15},{"s":"f","x":458,"y":18},{"s":"f","x":474,"y":20.5},{"s":"f","x":486,"y":13.5},{"s":"f","x":499,"y":16.5},{"s":"f","x":511,"y":17.5},{"s":"f","x":523,"y":20},{"s":"f","x":531,"y":22},{"s":"f","x":540,"y":26},{"s":"f","x":547,"y":30},{"s":"f","x":556,"y":34},{"s":"f","x":566,"y":40},{"s":"f","x":576,"y":40},{"s":"f","x":586,"y":31},{"s":"f","x":595,"y":21},{"s":"f","x":605,"y":11},{"s":"f","x":615,"y":4.5},{"s":"f","x":625,"y":1.5},{"s":"f","x":634,"y":0.4},{"s":"f","x":645,"y":0},
{"s":"br","o":1,"x":75.4,"y":94.4},{"s":"br","o":2,"x":75.4,"y":97.6},{"s":"br","o":3,"x":278.9,"y":97.6},{"s":"br","o":4,"x":278.9,"y":94.4},
{"s":"sq","x":313.8,"y":126.9},{"s":"sq","x":230.1,"y":0.8},{"s":"sq","x":394.4,"y":0.8}]
},
"columns":3,
"spacing":{"row":86.7,"column":118},
"bounds":"flush",
"concat":[
{"width":303,"height":302,"data":{"name":"p1"},"resolve":{"axis":{"x":"independent","y":"independent"}},"layer":[
{"transform":[{"filter":"datum.s=='h'"}],"mark":{"type":"line","color":"#000","strokeWidth":1},"encoding":{"x":{"field":"x","type":"quantitative","scale":{"domain":[55.1,793.9],"nice":false,"zero":false},"axis":{"values":[55.1,200,400,600,793.9],"format":".4~f","labelFlush":false,"labelOverlap":false,"tickSize":5,"labelPadding":9,"title":"PI-DNA-A\u00a0\u00a0(10\u00a0³\u00a0)","titlePadding":8}},"y":{"field":"y","type":"quantitative","scale":{"domain":[0,276],"nice":false},"axis":{"values":[0,60,120,180,240,276],"title":"Count","labelAngle":-90,"labelAlign":"center","labelBaseline":"bottom","labelOverlap":false,"tickSize":5,"labelPadding":4,"titlePadding":10}}}},
{"transform":[{"filter":"datum.s=='f'"}],"mark":{"type":"line","color":"#ff00ff","strokeWidth":1.5},"encoding":{"x":{"field":"x","type":"quantitative","axis":{"values":[100,150,250,300,350,450,500,550,650,700,750],"labels":false,"domain":false,"title":null,"tickSize":3}},"y":{"field":"y","type":"quantitative","axis":{"values":[12,24,36,48,72,84,96,108,132,144,156,168,192,204,216,228,252,264],"labels":false,"domain":false,"title":null,"tickSize":3}}}},
{"transform":[{"filter":"datum.s=='S'"}],"mark":{"type":"area","color":"#cccc60","opacity":0.7},"encoding":{"x":{"field":"x","type":"quantitative","axis":null},"y":{"field":"y","type":"quantitative","axis":null}}},
{"transform":[{"filter":"datum.s=='G1'"}],"mark":{"type":"area","color":"#33cc33","opacity":0.6},"encoding":{"x":{"field":"x","type":"quantitative","axis":null},"y":{"field":"y","type":"quantitative","axis":null}}},
{"transform":[{"filter":"datum.s=='G2'"}],"mark":{"type":"area","color":"#00ffff","opacity":0.6},"encoding":{"x":{"field":"x","type":"quantitative","axis":null},"y":{"field":"y","type":"quantitative","axis":null}}},
{"transform":[{"filter":"datum.s=='m'"}],"mark":{"type":"text","text":["Watson","RMS: 5.92","Freq G1: 64.26","Freq S: 26.10","Freq G2: 5.54","Mean G1: 341,493","Mean G2: 634,394","G2/G1: 1.86","CV G1: 6.35 %","CV G2: 3.25 %","Freq Sub-G1: 4.10","Freq Super-G2: 0.00"],"fontSize":15,"lineHeight":17.3,"align":"left","baseline":"top","fill":"#fff","stroke":"#fff","strokeWidth":7,"strokeJoin":"round"},"encoding":{"x":{"datum":392,"axis":null},"y":{"datum":251.6,"axis":null}}},
{"transform":[{"filter":"datum.s=='m'"}],"mark":{"type":"rule","color":"#2db82d","strokeWidth":1.5},"encoding":{"x":{"field":"g1","type":"quantitative","axis":null}}},
{"transform":[{"filter":"datum.s=='m'"}],"mark":{"type":"rule","color":"#22e8e8","strokeWidth":1.5},"encoding":{"x":{"field":"g2","type":"quantitative","axis":null}}},
{"transform":[{"filter":"datum.s=='m'"}],"mark":{"type":"text","text":"G1","fontSize":14,"dx":3,"baseline":"middle","color":"#000"},"encoding":{"x":{"field":"g1","type":"quantitative","axis":null},"y":{"datum":263.9,"axis":null}}},
{"transform":[{"filter":"datum.s=='m'"}],"mark":{"type":"text","text":"G2","fontSize":14,"dx":3,"baseline":"middle","color":"#000"},"encoding":{"x":{"field":"g2","type":"quantitative","axis":null},"y":{"datum":263.9,"axis":null}}},
{"transform":[{"filter":"datum.s=='m'"}],"mark":{"type":"text","text":["Watson","RMS: 5.92","Freq G1: 64.26","Freq S: 26.10","Freq G2: 5.54","Mean G1: 341,493","Mean G2: 634,394","G2/G1: 1.86","CV G1: 6.35 %","CV G2: 3.25 %","Freq Sub-G1: 4.10","Freq Super-G2: 0.00"],"fontSize":15,"lineHeight":17.3,"align":"left","baseline":"top","color":"#000"},"encoding":{"x":{"datum":392,"axis":null},"y":{"datum":251.6,"axis":null}}},
{"transform":[{"filter":"datum.s=='br'"}],"mark":{"type":"line","color":"#000","strokeWidth":2.5,"strokeJoin":"miter"},"encoding":{"x":{"field":"x","type":"quantitative","axis":null},"y":{"field":"y","type":"quantitative","axis":null},"order":{"field":"o"}}},
{"transform":[{"filter":"datum.s=='m'"}],"mark":{"type":"text","text":"Sub-G1","fontSize":23,"align":"center","baseline":"middle","color":"#000"},"encoding":{"x":{"datum":187.9,"axis":null},"y":{"datum":206.1,"axis":null}}},
{"transform":[{"filter":"datum.s=='sq'"}],"mark":{"type":"point","shape":"square","filled":true,"color":"#000","size":56,"opacity":1},"encoding":{"x":{"field":"x","type":"quantitative","axis":null},"y":{"field":"y","type":"quantitative","axis":null}}},
{"transform":[{"filter":"datum.s=='m'"}],"mark":{"type":"text","text":"LacZ+DMSO(1) /","fontSize":14.5,"align":"right","baseline":"middle","dx":5.1,"color":"#000"},"encoding":{"x":{"datum":424.5,"axis":null},"y":{"datum":289.1,"axis":null}}},
{"transform":[{"filter":"datum.s=='m'"}],"mark":{"type":"text","text":"Cells","fontSize":14.5,"align":"left","baseline":"middle","dx":9.1,"color":"#ff2020"},"encoding":{"x":{"datum":424.5,"axis":null},"y":{"datum":289.1,"axis":null}}},
{"transform":[{"filter":"datum.s=='m'"}],"mark":{"type":"text","text":"/","fontSize":14.5,"align":"left","baseline":"middle","dx":45.3,"color":"#000"},"encoding":{"x":{"datum":424.5,"axis":null},"y":{"datum":289.1,"axis":null}}},
{"transform":[{"filter":"datum.s=='m'"}],"mark":{"type":"text","text":"Singlets","fontSize":14.5,"align":"left","baseline":"middle","dx":53.4,"color":"#2020ff"},"encoding":{"x":{"datum":424.5,"axis":null},"y":{"datum":289.1,"axis":null}}}
]},
{"width":303,"height":302,"data":{"name":"p2"},"resolve":{"axis":{"x":"independent","y":"independent"}},"layer":[
{"transform":[{"filter":"datum.s=='h'"}],"mark":{"type":"line","color":"#000","strokeWidth":1},"encoding":{"x":{"field":"x","type":"quantitative","scale":{"domain":[55.1,793.9],"nice":false,"zero":false},"axis":{"values":[55.1,200,400,600,793.9],"format":".4~f","labelFlush":false,"labelOverlap":false,"tickSize":5,"labelPadding":9,"title":"PI-DNA-A\u00a0\u00a0(10\u00a0³\u00a0)","titlePadding":8}},"y":{"field":"y","type":"quantitative","scale":{"domain":[0,182],"nice":false},"axis":{"values":[0,40,80,120,160,182],"title":"Count","labelAngle":-90,"labelAlign":"center","labelBaseline":"bottom","labelOverlap":false,"tickSize":5,"labelPadding":4,"titlePadding":10}}}},
{"transform":[{"filter":"datum.s=='f'"}],"mark":{"type":"line","color":"#ff00ff","strokeWidth":1.5},"encoding":{"x":{"field":"x","type":"quantitative","axis":{"values":[100,150,250,300,350,450,500,550,650,700,750],"labels":false,"domain":false,"title":null,"tickSize":3}},"y":{"field":"y","type":"quantitative","axis":{"values":[8,16,24,32,48,56,64,72,88,96,104,112,128,136,144,152,168,176],"labels":false,"domain":false,"title":null,"tickSize":3}}}},
{"transform":[{"filter":"datum.s=='S'"}],"mark":{"type":"area","color":"#cccc60","opacity":0.7},"encoding":{"x":{"field":"x","type":"quantitative","axis":null},"y":{"field":"y","type":"quantitative","axis":null}}},
{"transform":[{"filter":"datum.s=='G1'"}],"mark":{"type":"area","color":"#33cc33","opacity":0.6},"encoding":{"x":{"field":"x","type":"quantitative","axis":null},"y":{"field":"y","type":"quantitative","axis":null}}},
{"transform":[{"filter":"datum.s=='G2'"}],"mark":{"type":"area","color":"#00ffff","opacity":0.6},"encoding":{"x":{"field":"x","type":"quantitative","axis":null},"y":{"field":"y","type":"quantitative","axis":null}}},
{"transform":[{"filter":"datum.s=='m'"}],"mark":{"type":"text","text":["Watson","RMS: 2.76","Freq G1: 41.87","Freq S: 38.97","Freq G2: 11.51","Mean G1: 344,747","Mean G2: 631,139","G2/G1: 1.83","CV G1: 5.98 %","CV G2: 4.13 %","Freq Sub-G1: 7.65","Freq Super-G2: 0.00"],"fontSize":15,"lineHeight":17.3,"align":"left","baseline":"top","fill":"#fff","stroke":"#fff","strokeWidth":7,"strokeJoin":"round"},"encoding":{"x":{"datum":392,"axis":null},"y":{"datum":164.9,"axis":null}}},
{"transform":[{"filter":"datum.s=='m'"}],"mark":{"type":"rule","color":"#2db82d","strokeWidth":1.5},"encoding":{"x":{"field":"g1","type":"quantitative","axis":null}}},
{"transform":[{"filter":"datum.s=='m'"}],"mark":{"type":"rule","color":"#22e8e8","strokeWidth":1.5},"encoding":{"x":{"field":"g2","type":"quantitative","axis":null}}},
{"transform":[{"filter":"datum.s=='m'"}],"mark":{"type":"text","text":"G1","fontSize":14,"dx":3,"baseline":"middle","color":"#000"},"encoding":{"x":{"field":"g1","type":"quantitative","axis":null},"y":{"datum":174,"axis":null}}},
{"transform":[{"filter":"datum.s=='m'"}],"mark":{"type":"text","text":"G2","fontSize":14,"dx":3,"baseline":"middle","color":"#000"},"encoding":{"x":{"field":"g2","type":"quantitative","axis":null},"y":{"datum":174,"axis":null}}},
{"transform":[{"filter":"datum.s=='m'"}],"mark":{"type":"text","text":["Watson","RMS: 2.76","Freq G1: 41.87","Freq S: 38.97","Freq G2: 11.51","Mean G1: 344,747","Mean G2: 631,139","G2/G1: 1.83","CV G1: 5.98 %","CV G2: 4.13 %","Freq Sub-G1: 7.65","Freq Super-G2: 0.00"],"fontSize":15,"lineHeight":17.3,"align":"left","baseline":"top","color":"#000"},"encoding":{"x":{"datum":392,"axis":null},"y":{"datum":164.9,"axis":null}}},
{"transform":[{"filter":"datum.s=='br'"}],"mark":{"type":"line","color":"#000","strokeWidth":2.5,"strokeJoin":"miter"},"encoding":{"x":{"field":"x","type":"quantitative","axis":null},"y":{"field":"y","type":"quantitative","axis":null},"order":{"field":"o"}}},
{"transform":[{"filter":"datum.s=='m'"}],"mark":{"type":"text","text":"Sub-G1","fontSize":23,"align":"center","baseline":"middle","color":"#000"},"encoding":{"x":{"datum":193.5,"axis":null},"y":{"datum":135.5,"axis":null}}},
{"transform":[{"filter":"datum.s=='m'"}],"mark":{"type":"text","text":"hIAPP+DMSO(1) /","fontSize":14.5,"align":"right","baseline":"middle","dx":9.5,"color":"#000"},"encoding":{"x":{"datum":424.5,"axis":null},"y":{"datum":190.6,"axis":null}}},
{"transform":[{"filter":"datum.s=='m'"}],"mark":{"type":"text","text":"Cells","fontSize":14.5,"align":"left","baseline":"middle","dx":13.5,"color":"#ff2020"},"encoding":{"x":{"datum":424.5,"axis":null},"y":{"datum":190.6,"axis":null}}},
{"transform":[{"filter":"datum.s=='m'"}],"mark":{"type":"text","text":"/","fontSize":14.5,"align":"left","baseline":"middle","dx":49.7,"color":"#000"},"encoding":{"x":{"datum":424.5,"axis":null},"y":{"datum":190.6,"axis":null}}},
{"transform":[{"filter":"datum.s=='m'"}],"mark":{"type":"text","text":"Singlets","fontSize":14.5,"align":"left","baseline":"middle","dx":57.8,"color":"#2020ff"},"encoding":{"x":{"datum":424.5,"axis":null},"y":{"datum":190.6,"axis":null}}}
]},
{"width":303,"height":302,"data":{"name":"p3"},"resolve":{"axis":{"x":"independent","y":"independent"}},"layer":[
{"transform":[{"filter":"datum.s=='h'"}],"mark":{"type":"line","color":"#000","strokeWidth":1},"encoding":{"x":{"field":"x","type":"quantitative","scale":{"domain":[55.1,793.9],"nice":false,"zero":false},"axis":{"values":[55.1,200,400,600,793.9],"format":".4~f","labelFlush":false,"labelOverlap":false,"tickSize":5,"labelPadding":9,"title":"PI-DNA-A\u00a0\u00a0(10\u00a0³\u00a0)","titlePadding":8}},"y":{"field":"y","type":"quantitative","scale":{"domain":[0,142],"nice":false},"axis":{"values":[0,40,80,120,142],"title":"Count","labelAngle":-90,"labelAlign":"center","labelBaseline":"bottom","labelOverlap":false,"tickSize":5,"labelPadding":4,"titlePadding":10}}}},
{"transform":[{"filter":"datum.s=='f'"}],"mark":{"type":"line","color":"#ff00ff","strokeWidth":1.5},"encoding":{"x":{"field":"x","type":"quantitative","axis":{"values":[100,150,250,300,350,450,500,550,650,700,750],"labels":false,"domain":false,"title":null,"tickSize":3}},"y":{"field":"y","type":"quantitative","axis":{"values":[8,16,24,32,48,56,64,72,88,96,104,112,128,136],"labels":false,"domain":false,"title":null,"tickSize":3}}}},
{"transform":[{"filter":"datum.s=='S'"}],"mark":{"type":"area","color":"#cccc60","opacity":0.7},"encoding":{"x":{"field":"x","type":"quantitative","axis":null},"y":{"field":"y","type":"quantitative","axis":null}}},
{"transform":[{"filter":"datum.s=='G1'"}],"mark":{"type":"area","color":"#33cc33","opacity":0.6},"encoding":{"x":{"field":"x","type":"quantitative","axis":null},"y":{"field":"y","type":"quantitative","axis":null}}},
{"transform":[{"filter":"datum.s=='G2'"}],"mark":{"type":"area","color":"#00ffff","opacity":0.6},"encoding":{"x":{"field":"x","type":"quantitative","axis":null},"y":{"field":"y","type":"quantitative","axis":null}}},
{"transform":[{"filter":"datum.s=='m'"}],"mark":{"type":"text","text":["Watson","RMS: 4.30","Freq G1: 43.14","Freq S: 29.97","Freq G2: 10.28","Mean G1: 354,511","Mean G2: 637,648","G2/G1: 1.80","CV G1: 7.04 %","CV G2: 3.40 %","Freq Sub-G1: 16.61","Freq Super-G2: 0.00"],"fontSize":15,"lineHeight":17.3,"align":"left","baseline":"top","fill":"#fff","stroke":"#fff","strokeWidth":7,"strokeJoin":"round"},"encoding":{"x":{"datum":392,"axis":null},"y":{"datum":129.5,"axis":null}}},
{"transform":[{"filter":"datum.s=='m'"}],"mark":{"type":"rule","color":"#2db82d","strokeWidth":1.5},"encoding":{"x":{"field":"g1","type":"quantitative","axis":null}}},
{"transform":[{"filter":"datum.s=='m'"}],"mark":{"type":"rule","color":"#22e8e8","strokeWidth":1.5},"encoding":{"x":{"field":"g2","type":"quantitative","axis":null}}},
{"transform":[{"filter":"datum.s=='m'"}],"mark":{"type":"text","text":"G1","fontSize":14,"dx":3,"baseline":"middle","color":"#000"},"encoding":{"x":{"field":"g1","type":"quantitative","axis":null},"y":{"datum":135.8,"axis":null}}},
{"transform":[{"filter":"datum.s=='m'"}],"mark":{"type":"text","text":"G2","fontSize":14,"dx":3,"baseline":"middle","color":"#000"},"encoding":{"x":{"field":"g2","type":"quantitative","axis":null},"y":{"datum":135.8,"axis":null}}},
{"transform":[{"filter":"datum.s=='m'"}],"mark":{"type":"text","text":["Watson","RMS: 4.30","Freq G1: 43.14","Freq S: 29.97","Freq G2: 10.28","Mean G1: 354,511","Mean G2: 637,648","G2/G1: 1.80","CV G1: 7.04 %","CV G2: 3.40 %","Freq Sub-G1: 16.61","Freq Super-G2: 0.00"],"fontSize":15,"lineHeight":17.3,"align":"left","baseline":"top","color":"#000"},"encoding":{"x":{"datum":392,"axis":null},"y":{"datum":129.5,"axis":null}}},
{"transform":[{"filter":"datum.s=='br'"}],"mark":{"type":"line","color":"#000","strokeWidth":2.5,"strokeJoin":"miter"},"encoding":{"x":{"field":"x","type":"quantitative","axis":null},"y":{"field":"y","type":"quantitative","axis":null},"order":{"field":"o"}}},
{"transform":[{"filter":"datum.s=='m'"}],"mark":{"type":"text","text":"Sub-G1","fontSize":23,"align":"center","baseline":"middle","color":"#000"},"encoding":{"x":{"datum":202.8,"axis":null},"y":{"datum":105.7,"axis":null}}},
{"transform":[{"filter":"datum.s=='m'"}],"mark":{"type":"text","text":"hIAPP+HIF1 Inh(1) /","fontSize":14.5,"align":"right","baseline":"middle","dx":15.6,"color":"#000"},"encoding":{"x":{"datum":424.5,"axis":null},"y":{"datum":148.7,"axis":null}}},
{"transform":[{"filter":"datum.s=='m'"}],"mark":{"type":"text","text":"Cells","fontSize":14.5,"align":"left","baseline":"middle","dx":19.6,"color":"#ff2020"},"encoding":{"x":{"datum":424.5,"axis":null},"y":{"datum":148.7,"axis":null}}},
{"transform":[{"filter":"datum.s=='m'"}],"mark":{"type":"text","text":"/","fontSize":14.5,"align":"left","baseline":"middle","dx":55.8,"color":"#000"},"encoding":{"x":{"datum":424.5,"axis":null},"y":{"datum":148.7,"axis":null}}},
{"transform":[{"filter":"datum.s=='m'"}],"mark":{"type":"text","text":"Singlets","fontSize":14.5,"align":"left","baseline":"middle","dx":63.9,"color":"#2020ff"},"encoding":{"x":{"datum":424.5,"axis":null},"y":{"datum":148.7,"axis":null}}}
]},
{"width":303,"height":302,"data":{"name":"p4"},"resolve":{"axis":{"x":"independent","y":"independent"}},"layer":[
{"transform":[{"filter":"datum.s=='h'"}],"mark":{"type":"line","color":"#000","strokeWidth":1},"encoding":{"x":{"field":"x","type":"quantitative","scale":{"domain":[55.1,793.9],"nice":false,"zero":false},"axis":{"values":[55.1,200,400,600,793.9],"format":".4~f","labelFlush":false,"labelOverlap":false,"tickSize":5,"labelPadding":9,"title":"PI-DNA-A\u00a0\u00a0(10\u00a0³\u00a0)","titlePadding":8}},"y":{"field":"y","type":"quantitative","scale":{"domain":[0,194],"nice":false},"axis":{"values":[0,40,80,120,160,194],"title":"Count","labelAngle":-90,"labelAlign":"center","labelBaseline":"bottom","labelOverlap":false,"tickSize":5,"labelPadding":4,"titlePadding":10}}}},
{"transform":[{"filter":"datum.s=='f'"}],"mark":{"type":"line","color":"#ff00ff","strokeWidth":1.5},"encoding":{"x":{"field":"x","type":"quantitative","axis":{"values":[100,150,250,300,350,450,500,550,650,700,750],"labels":false,"domain":false,"title":null,"tickSize":3}},"y":{"field":"y","type":"quantitative","axis":{"values":[8,16,24,32,48,56,64,72,88,96,104,112,128,136,144,152,168,176,184,192],"labels":false,"domain":false,"title":null,"tickSize":3}}}},
{"transform":[{"filter":"datum.s=='S'"}],"mark":{"type":"area","color":"#cccc60","opacity":0.7},"encoding":{"x":{"field":"x","type":"quantitative","axis":null},"y":{"field":"y","type":"quantitative","axis":null}}},
{"transform":[{"filter":"datum.s=='G1'"}],"mark":{"type":"area","color":"#33cc33","opacity":0.6},"encoding":{"x":{"field":"x","type":"quantitative","axis":null},"y":{"field":"y","type":"quantitative","axis":null}}},
{"transform":[{"filter":"datum.s=='G2'"}],"mark":{"type":"area","color":"#00ffff","opacity":0.6},"encoding":{"x":{"field":"x","type":"quantitative","axis":null},"y":{"field":"y","type":"quantitative","axis":null}}},
{"transform":[{"filter":"datum.s=='m'"}],"mark":{"type":"text","text":["Watson","RMS: 3.54","Freq G1: 60.56","Freq S: 21.03","Freq G2: 6.86","Mean G1: 341,493","Mean G2: 621,376","G2/G1: 1.82","CV G1: 8.58 %","CV G2: 5.24 %","Freq Sub-G1: 11.55","Freq Super-G2: 0.00"],"fontSize":15,"lineHeight":17.3,"align":"left","baseline":"top","fill":"#fff","stroke":"#fff","strokeWidth":7,"strokeJoin":"round"},"encoding":{"x":{"datum":392,"axis":null},"y":{"datum":176.7,"axis":null}}},
{"transform":[{"filter":"datum.s=='m'"}],"mark":{"type":"rule","color":"#2db82d","strokeWidth":1.5},"encoding":{"x":{"field":"g1","type":"quantitative","axis":null}}},
{"transform":[{"filter":"datum.s=='m'"}],"mark":{"type":"rule","color":"#22e8e8","strokeWidth":1.5},"encoding":{"x":{"field":"g2","type":"quantitative","axis":null}}},
{"transform":[{"filter":"datum.s=='m'"}],"mark":{"type":"text","text":"G1","fontSize":14,"dx":3,"baseline":"middle","color":"#000"},"encoding":{"x":{"field":"g1","type":"quantitative","axis":null},"y":{"datum":185.5,"axis":null}}},
{"transform":[{"filter":"datum.s=='m'"}],"mark":{"type":"text","text":"G2","fontSize":14,"dx":3,"baseline":"middle","color":"#000"},"encoding":{"x":{"field":"g2","type":"quantitative","axis":null},"y":{"datum":185.5,"axis":null}}},
{"transform":[{"filter":"datum.s=='m'"}],"mark":{"type":"text","text":["Watson","RMS: 3.54","Freq G1: 60.56","Freq S: 21.03","Freq G2: 6.86","Mean G1: 341,493","Mean G2: 621,376","G2/G1: 1.82","CV G1: 8.58 %","CV G2: 5.24 %","Freq Sub-G1: 11.55","Freq Super-G2: 0.00"],"fontSize":15,"lineHeight":17.3,"align":"left","baseline":"top","color":"#000"},"encoding":{"x":{"datum":392,"axis":null},"y":{"datum":176.7,"axis":null}}},
{"transform":[{"filter":"datum.s=='br'"}],"mark":{"type":"line","color":"#000","strokeWidth":2.5,"strokeJoin":"miter"},"encoding":{"x":{"field":"x","type":"quantitative","axis":null},"y":{"field":"y","type":"quantitative","axis":null},"order":{"field":"o"}}},
{"transform":[{"filter":"datum.s=='m'"}],"mark":{"type":"text","text":"Sub-G1","fontSize":23,"align":"center","baseline":"middle","color":"#000"},"encoding":{"x":{"datum":187.9,"axis":null},"y":{"datum":139.9,"axis":null}}},
{"transform":[{"filter":"datum.s=='m'"}],"mark":{"type":"text","text":"LacZ+CTRL siRNA(1) /","fontSize":14.5,"align":"right","baseline":"middle","dx":24.8,"color":"#000"},"encoding":{"x":{"datum":424.5,"axis":null},"y":{"datum":203,"axis":null}}},
{"transform":[{"filter":"datum.s=='m'"}],"mark":{"type":"text","text":"Cells","fontSize":14.5,"align":"left","baseline":"middle","dx":28.8,"color":"#ff2020"},"encoding":{"x":{"datum":424.5,"axis":null},"y":{"datum":203,"axis":null}}},
{"transform":[{"filter":"datum.s=='m'"}],"mark":{"type":"text","text":"/","fontSize":14.5,"align":"left","baseline":"middle","dx":65,"color":"#000"},"encoding":{"x":{"datum":424.5,"axis":null},"y":{"datum":203,"axis":null}}},
{"transform":[{"filter":"datum.s=='m'"}],"mark":{"type":"text","text":"Singlets","fontSize":14.5,"align":"left","baseline":"middle","dx":73.1,"color":"#2020ff"},"encoding":{"x":{"datum":424.5,"axis":null},"y":{"datum":203,"axis":null}}}
]},
{"width":303,"height":302,"data":{"name":"p5"},"resolve":{"axis":{"x":"independent","y":"independent"}},"layer":[
{"transform":[{"filter":"datum.s=='h'"}],"mark":{"type":"line","color":"#000","strokeWidth":1},"encoding":{"x":{"field":"x","type":"quantitative","scale":{"domain":[55.1,793.9],"nice":false,"zero":false},"axis":{"values":[55.1,200,400,600,793.9],"format":".4~f","labelFlush":false,"labelOverlap":false,"tickSize":5,"labelPadding":9,"title":"PI-DNA-A\u00a0\u00a0(10\u00a0³\u00a0)","titlePadding":8}},"y":{"field":"y","type":"quantitative","scale":{"domain":[0,199],"nice":false},"axis":{"values":[0,40,80,120,160,199],"title":"Count","labelAngle":-90,"labelAlign":"center","labelBaseline":"bottom","labelOverlap":false,"tickSize":5,"labelPadding":4,"titlePadding":10}}}},
{"transform":[{"filter":"datum.s=='f'"}],"mark":{"type":"line","color":"#ff00ff","strokeWidth":1.5},"encoding":{"x":{"field":"x","type":"quantitative","axis":{"values":[100,150,250,300,350,450,500,550,650,700,750],"labels":false,"domain":false,"title":null,"tickSize":3}},"y":{"field":"y","type":"quantitative","axis":{"values":[8,16,24,32,48,56,64,72,88,96,104,112,128,136,144,152,168,176,184,192],"labels":false,"domain":false,"title":null,"tickSize":3}}}},
{"transform":[{"filter":"datum.s=='S'"}],"mark":{"type":"area","color":"#cccc60","opacity":0.7},"encoding":{"x":{"field":"x","type":"quantitative","axis":null},"y":{"field":"y","type":"quantitative","axis":null}}},
{"transform":[{"filter":"datum.s=='G1'"}],"mark":{"type":"area","color":"#33cc33","opacity":0.6},"encoding":{"x":{"field":"x","type":"quantitative","axis":null},"y":{"field":"y","type":"quantitative","axis":null}}},
{"transform":[{"filter":"datum.s=='G2'"}],"mark":{"type":"area","color":"#00ffff","opacity":0.6},"encoding":{"x":{"field":"x","type":"quantitative","axis":null},"y":{"field":"y","type":"quantitative","axis":null}}},
{"transform":[{"filter":"datum.s=='m'"}],"mark":{"type":"text","text":["Watson","RMS: 7.76","Freq G1: 48.05","Freq S: 25.57","Freq G2: 11.50","Mean G1: 305,694","Mean G2: 566,050","G2/G1: 1.85","CV G1: 7.45 %","CV G2: 5.37 %","Freq Sub-G1: 14.57","Freq Super-G2: 0.30"],"fontSize":15,"lineHeight":17.3,"align":"left","baseline":"top","fill":"#fff","stroke":"#fff","strokeWidth":7,"strokeJoin":"round"},"encoding":{"x":{"datum":392,"axis":null},"y":{"datum":181.2,"axis":null}}},
{"transform":[{"filter":"datum.s=='m'"}],"mark":{"type":"rule","color":"#2db82d","strokeWidth":1.5},"encoding":{"x":{"field":"g1","type":"quantitative","axis":null}}},
{"transform":[{"filter":"datum.s=='m'"}],"mark":{"type":"rule","color":"#22e8e8","strokeWidth":1.5},"encoding":{"x":{"field":"g2","type":"quantitative","axis":null}}},
{"transform":[{"filter":"datum.s=='m'"}],"mark":{"type":"text","text":"G1","fontSize":14,"dx":3,"baseline":"middle","color":"#000"},"encoding":{"x":{"field":"g1","type":"quantitative","axis":null},"y":{"datum":190.2,"axis":null}}},
{"transform":[{"filter":"datum.s=='m'"}],"mark":{"type":"text","text":"G2","fontSize":14,"dx":3,"baseline":"middle","color":"#000"},"encoding":{"x":{"field":"g2","type":"quantitative","axis":null},"y":{"datum":190.2,"axis":null}}},
{"transform":[{"filter":"datum.s=='m'"}],"mark":{"type":"text","text":["Watson","RMS: 7.76","Freq G1: 48.05","Freq S: 25.57","Freq G2: 11.50","Mean G1: 305,694","Mean G2: 566,050","G2/G1: 1.85","CV G1: 7.45 %","CV G2: 5.37 %","Freq Sub-G1: 14.57","Freq Super-G2: 0.30"],"fontSize":15,"lineHeight":17.3,"align":"left","baseline":"top","color":"#000"},"encoding":{"x":{"datum":392,"axis":null},"y":{"datum":181.2,"axis":null}}},
{"transform":[{"filter":"datum.s=='br'"}],"mark":{"type":"line","color":"#000","strokeWidth":2.5,"strokeJoin":"miter"},"encoding":{"x":{"field":"x","type":"quantitative","axis":null},"y":{"field":"y","type":"quantitative","axis":null},"order":{"field":"o"}}},
{"transform":[{"filter":"datum.s=='m'"}],"mark":{"type":"text","text":"Sub-G1","fontSize":23,"align":"center","baseline":"middle","color":"#000"},"encoding":{"x":{"datum":177.1,"axis":null},"y":{"datum":143.6,"axis":null}}},
{"transform":[{"filter":"datum.s=='m'"}],"mark":{"type":"text","text":"hIAPP + CTRL siRNA(1) /","fontSize":14.5,"align":"right","baseline":"middle","dx":33.3,"color":"#000"},"encoding":{"x":{"datum":424.5,"axis":null},"y":{"datum":208.2,"axis":null}}},
{"transform":[{"filter":"datum.s=='m'"}],"mark":{"type":"text","text":"Cells","fontSize":14.5,"align":"left","baseline":"middle","dx":37.3,"color":"#ff2020"},"encoding":{"x":{"datum":424.5,"axis":null},"y":{"datum":208.2,"axis":null}}},
{"transform":[{"filter":"datum.s=='m'"}],"mark":{"type":"text","text":"/","fontSize":14.5,"align":"left","baseline":"middle","dx":73.5,"color":"#000"},"encoding":{"x":{"datum":424.5,"axis":null},"y":{"datum":208.2,"axis":null}}},
{"transform":[{"filter":"datum.s=='m'"}],"mark":{"type":"text","text":"Singlets","fontSize":14.5,"align":"left","baseline":"middle","dx":81.6,"color":"#2020ff"},"encoding":{"x":{"datum":424.5,"axis":null},"y":{"datum":208.2,"axis":null}}}
]},
{"width":303,"height":302,"data":{"name":"p6"},"resolve":{"axis":{"x":"independent","y":"independent"}},"layer":[
{"transform":[{"filter":"datum.s=='h'"}],"mark":{"type":"line","color":"#000","strokeWidth":1},"encoding":{"x":{"field":"x","type":"quantitative","scale":{"domain":[55.1,793.9],"nice":false,"zero":false},"axis":{"values":[55.1,200,400,600,793.9],"format":".4~f","labelFlush":false,"labelOverlap":false,"tickSize":5,"labelPadding":9,"title":"PI-DNA-A\u00a0\u00a0(10\u00a0³\u00a0)","titlePadding":8}},"y":{"field":"y","type":"quantitative","scale":{"domain":[0,144],"nice":false},"axis":{"values":[0,40,80,120,144],"title":"Count","labelAngle":-90,"labelAlign":"center","labelBaseline":"bottom","labelOverlap":false,"tickSize":5,"labelPadding":4,"titlePadding":10}}}},
{"transform":[{"filter":"datum.s=='f'"}],"mark":{"type":"line","color":"#ff00ff","strokeWidth":1.5},"encoding":{"x":{"field":"x","type":"quantitative","axis":{"values":[100,150,250,300,350,450,500,550,650,700,750],"labels":false,"domain":false,"title":null,"tickSize":3}},"y":{"field":"y","type":"quantitative","axis":{"values":[8,16,24,32,48,56,64,72,88,96,104,112,128,136],"labels":false,"domain":false,"title":null,"tickSize":3}}}},
{"transform":[{"filter":"datum.s=='S'"}],"mark":{"type":"area","color":"#cccc60","opacity":0.7},"encoding":{"x":{"field":"x","type":"quantitative","axis":null},"y":{"field":"y","type":"quantitative","axis":null}}},
{"transform":[{"filter":"datum.s=='G1'"}],"mark":{"type":"area","color":"#33cc33","opacity":0.6},"encoding":{"x":{"field":"x","type":"quantitative","axis":null},"y":{"field":"y","type":"quantitative","axis":null}}},
{"transform":[{"filter":"datum.s=='G2'"}],"mark":{"type":"area","color":"#00ffff","opacity":0.6},"encoding":{"x":{"field":"x","type":"quantitative","axis":null},"y":{"field":"y","type":"quantitative","axis":null}}},
{"transform":[{"filter":"datum.s=='m'"}],"mark":{"type":"text","text":["Watson","RMS: 4.77","Freq G1: 44.74","Freq S: 20.83","Freq G2: 9.49","Mean G1: 308,948","Mean G2: 575,814","G2/G1: 1.86","CV G1: 8.78 %","CV G2: 3.39 %","Freq Sub-G1: 24.52","Freq Super-G2: 0.43"],"fontSize":15,"lineHeight":17.3,"align":"left","baseline":"top","fill":"#fff","stroke":"#fff","strokeWidth":7,"strokeJoin":"round"},"encoding":{"x":{"datum":392,"axis":null},"y":{"datum":131.2,"axis":null}}},
{"transform":[{"filter":"datum.s=='m'"}],"mark":{"type":"rule","color":"#2db82d","strokeWidth":1.5},"encoding":{"x":{"field":"g1","type":"quantitative","axis":null}}},
{"transform":[{"filter":"datum.s=='m'"}],"mark":{"type":"rule","color":"#22e8e8","strokeWidth":1.5},"encoding":{"x":{"field":"g2","type":"quantitative","axis":null}}},
{"transform":[{"filter":"datum.s=='m'"}],"mark":{"type":"text","text":"G1","fontSize":14,"dx":3,"baseline":"middle","color":"#000"},"encoding":{"x":{"field":"g1","type":"quantitative","axis":null},"y":{"datum":137.7,"axis":null}}},
{"transform":[{"filter":"datum.s=='m'"}],"mark":{"type":"text","text":"G2","fontSize":14,"dx":3,"baseline":"middle","color":"#000"},"encoding":{"x":{"field":"g2","type":"quantitative","axis":null},"y":{"datum":137.7,"axis":null}}},
{"transform":[{"filter":"datum.s=='m'"}],"mark":{"type":"text","text":["Watson","RMS: 4.77","Freq G1: 44.74","Freq S: 20.83","Freq G2: 9.49","Mean G1: 308,948","Mean G2: 575,814","G2/G1: 1.86","CV G1: 8.78 %","CV G2: 3.39 %","Freq Sub-G1: 24.52","Freq Super-G2: 0.43"],"fontSize":15,"lineHeight":17.3,"align":"left","baseline":"top","color":"#000"},"encoding":{"x":{"datum":392,"axis":null},"y":{"datum":131.2,"axis":null}}},
{"transform":[{"filter":"datum.s=='br'"}],"mark":{"type":"line","color":"#000","strokeWidth":2.5,"strokeJoin":"miter"},"encoding":{"x":{"field":"x","type":"quantitative","axis":null},"y":{"field":"y","type":"quantitative","axis":null},"order":{"field":"o"}}},
{"transform":[{"filter":"datum.s=='m'"}],"mark":{"type":"text","text":"Sub-G1","fontSize":23,"align":"center","baseline":"middle","color":"#000"},"encoding":{"x":{"datum":179.6,"axis":null},"y":{"datum":103.9,"axis":null}}},
{"transform":[{"filter":"datum.s=='sq'"}],"mark":{"type":"point","shape":"square","filled":true,"color":"#000","size":56,"opacity":1},"encoding":{"x":{"field":"x","type":"quantitative","axis":null},"y":{"field":"y","type":"quantitative","axis":null}}},
{"transform":[{"filter":"datum.s=='m'"}],"mark":{"type":"text","text":"hIAPP+PFKFB3 siRNA(1) /","fontSize":14.5,"align":"right","baseline":"middle","dx":37.7,"color":"#000"},"encoding":{"x":{"datum":424.5,"axis":null},"y":{"datum":150.7,"axis":null}}},
{"transform":[{"filter":"datum.s=='m'"}],"mark":{"type":"text","text":"Cells","fontSize":14.5,"align":"left","baseline":"middle","dx":41.7,"color":"#ff2020"},"encoding":{"x":{"datum":424.5,"axis":null},"y":{"datum":150.7,"axis":null}}},
{"transform":[{"filter":"datum.s=='m'"}],"mark":{"type":"text","text":"/","fontSize":14.5,"align":"left","baseline":"middle","dx":77.9,"color":"#000"},"encoding":{"x":{"datum":424.5,"axis":null},"y":{"datum":150.7,"axis":null}}},
{"transform":[{"filter":"datum.s=='m'"}],"mark":{"type":"text","text":"Singlets","fontSize":14.5,"align":"left","baseline":"middle","dx":86,"color":"#2020ff"},"encoding":{"x":{"datum":424.5,"axis":null},"y":{"datum":150.7,"axis":null}}}
]}
]
}
